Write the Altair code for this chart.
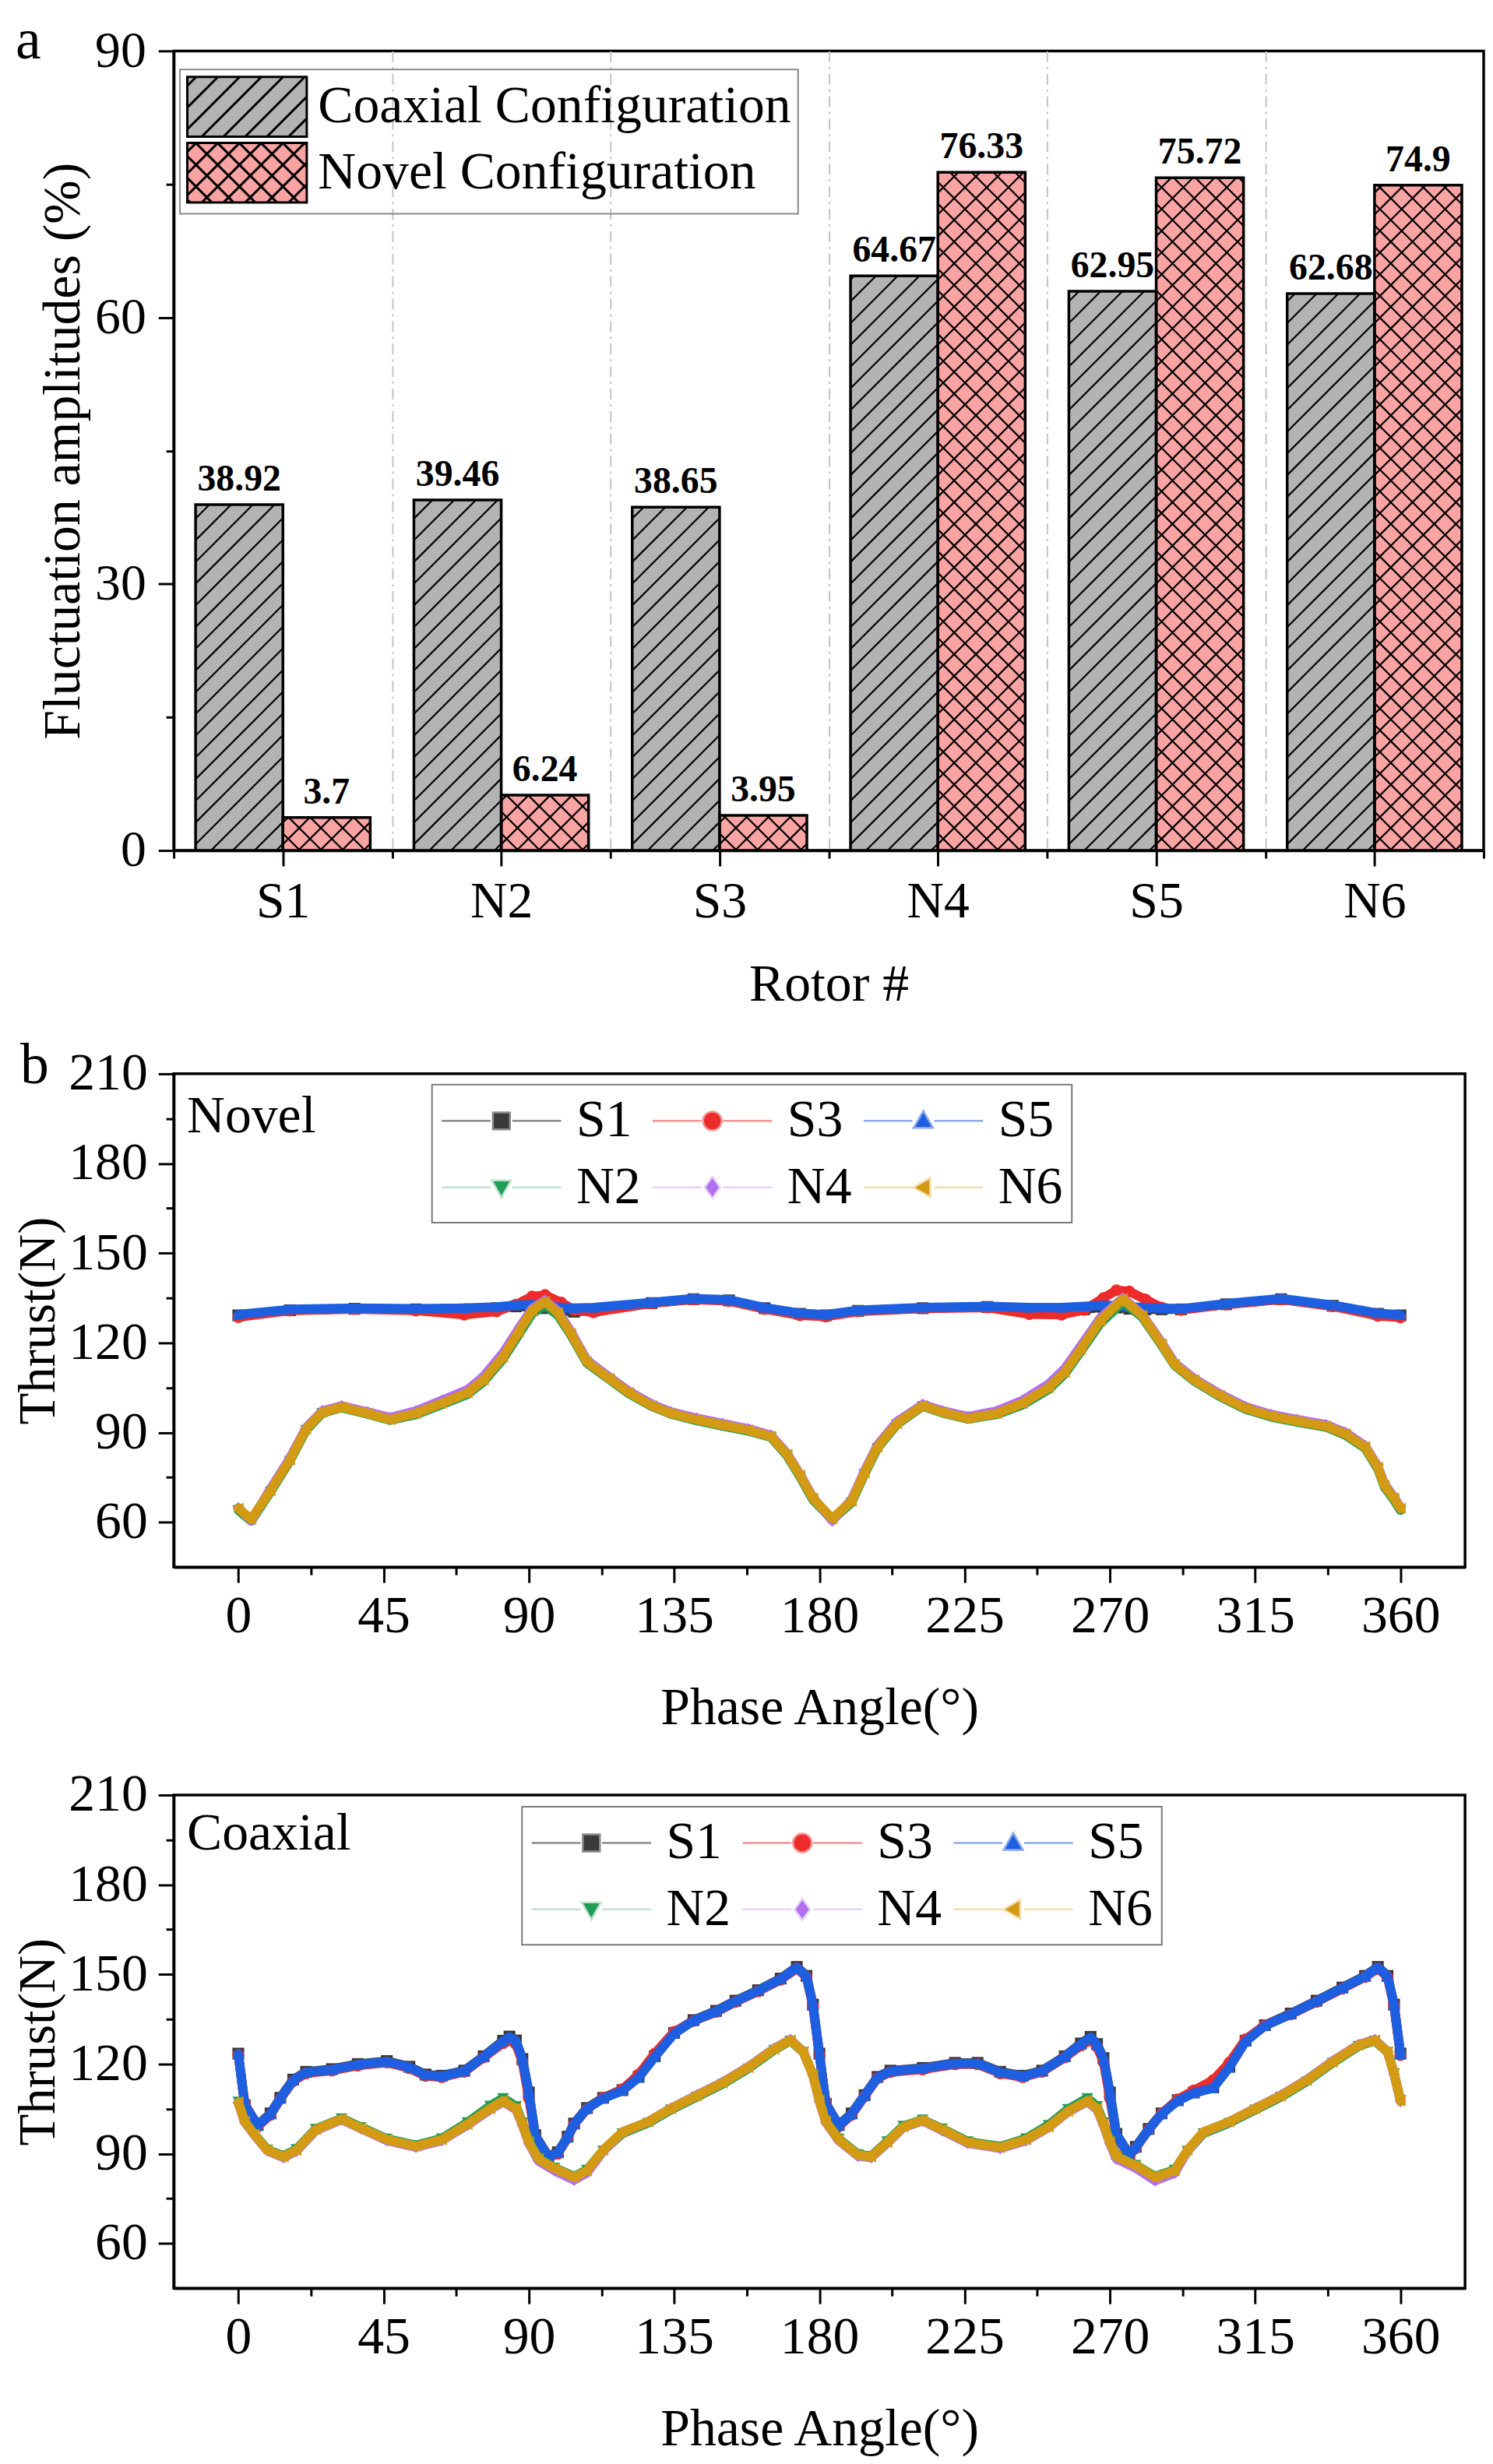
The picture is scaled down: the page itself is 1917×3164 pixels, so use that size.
import math
import altair as alt
import pandas as pd

SERIF = "Liberation Serif"

# ---------------- panel a data ----------------
ROTORS = ["S1", "N2", "S3", "N4", "S5", "N6"]
COAXIAL = [38.92, 39.46, 38.65, 64.67, 62.95, 62.68]
NOVEL = [3.7, 6.24, 3.95, 76.33, 75.72, 74.9]
CONFIGS = ["Coaxial Configuration", "Novel Configuration"]
CONFIG_FILL = ["#b3b3b3", "#f9a3a3"]

# ---------------- panel b data ----------------
SERIES = ["S1", "S3", "S5", "N2", "N4", "N6"]
MARK_COLOR = {"S1": "#3a3a3a", "S3": "#ee2b2b", "S5": "#1d5fe0",
              "N2": "#1f9d57", "N4": "#b26ff0", "N6": "#d39a14"}
LINE_COLOR = {"S1": "#8c8c8c", "S3": "#f29494", "S5": "#8cacee",
              "N2": "#bfe3cd", "N4": "#e6d3f6", "N6": "#f2dfae"}
SHAPES = {"S1": "square", "S3": "circle", "S5": "triangle-up",
          "N2": "triangle-down", "N4": "diamond", "N6": "triangle-left"}

# Novel configuration
NOV_S_ANG = [0, 16, 36, 55, 70, 80, 86, 91, 95, 100,
             104, 110, 128, 141, 152, 163, 174, 182, 192, 212,
             232, 245, 255, 262, 268, 272, 276, 281, 286, 292,
             306, 323, 339, 353, 360]
NOV_S1 = [129.2, 130.9, 131.4, 131.2, 131.2, 131.6, 132.2, 132.0, 131.6, 130.8,
          130.4, 130.8, 133.3, 134.6, 134.2, 131.6, 129.7, 129.2, 130.7, 131.6,
          132.0, 130.9, 130.6, 131.2, 132.0, 131.8, 131.4, 131.2, 131.2, 131.2,
          132.9, 134.6, 132.4, 129.7, 129.2]
NOV_S3 = [128.6, 130.8, 131.3, 130.8, 129.4, 130.5, 132.8, 135.5, 136.0, 133.5,
          131.0, 130.2, 133.2, 134.5, 134.0, 131.3, 129.2, 128.8, 130.5, 131.5,
          131.8, 129.6, 129.4, 131.0, 135.0, 137.6, 137.2, 134.5, 131.8, 131.0,
          132.8, 134.5, 132.2, 129.0, 128.5]
NOV_S5 = [129.5, 131.2, 131.6, 131.4, 131.6, 132.0, 132.6, 132.8, 132.4, 131.8,
          131.6, 131.8, 133.5, 134.8, 134.4, 131.8, 129.9, 129.4, 130.9, 131.8,
          132.2, 131.8, 131.8, 132.2, 132.6, 132.4, 132.1, 131.8, 131.6, 131.4,
          133.1, 134.8, 132.6, 129.9, 129.4]
NOV_N_ANG = [0, 4, 10, 16, 21, 26, 32, 40, 47, 55,
             63, 71, 76, 82, 87, 91, 95, 99, 103, 108,
             115, 121, 128, 134, 142, 150, 158, 165, 170, 174,
             178, 184, 190, 194, 198, 204, 212, 218, 226, 235,
             243, 251, 256, 261, 267, 274, 280, 286, 290, 296,
             304, 312, 320, 328, 337, 343, 349, 353, 355, 358,
             360]
NOV_N2 = [64.0, 60.4, 70.2, 80.5, 90.8, 96.5, 98.3, 96.2, 94.1, 96.0,
          99.3, 102.8, 107.0, 114.6, 123.0, 129.8, 132.5, 129.2, 122.6, 113.2,
          107.7, 103.0, 98.8, 96.2, 94.0, 92.2, 90.5, 88.4, 82.2, 75.2,
          67.5, 60.8, 66.6, 76.1, 84.8, 92.7, 98.8, 96.6, 94.5, 96.1,
          99.3, 104.4, 109.6, 117.2, 126.5, 133.6, 128.6, 119.2, 112.5, 107.3,
          102.1, 97.8, 95.2, 93.5, 91.8, 89.1, 84.8, 77.8, 71.8, 67.4,
          64.0]
NOV_N4 = [64.8, 60.6, 71.2, 81.5, 91.6, 97.2, 98.9, 96.9, 95.0, 97.2,
          100.7, 104.3, 108.8, 116.6, 125.0, 131.4, 134.2, 130.6, 123.8, 114.2,
          108.5, 103.8, 99.5, 96.9, 94.8, 93.0, 91.2, 89.1, 83.0, 76.0,
          68.3, 60.5, 67.6, 77.2, 85.8, 93.6, 99.4, 97.3, 95.3, 97.2,
          100.8, 106.2, 111.4, 119.0, 128.3, 135.0, 129.5, 120.1, 113.3, 108.1,
          102.9, 98.6, 96.0, 94.3, 92.6, 90.0, 85.6, 78.7, 72.8, 68.4,
          64.9]
NOV_N6 = [64.6, 61.0, 70.6, 80.9, 91.2, 96.8, 98.5, 96.4, 94.3, 96.4,
          99.8, 103.3, 107.6, 115.3, 123.9, 130.8, 133.8, 130.0, 123.1, 113.6,
          108.0, 103.3, 99.0, 96.4, 94.3, 92.5, 90.8, 88.7, 82.6, 75.7,
          68.0, 61.2, 67.1, 76.6, 85.2, 93.0, 99.0, 96.8, 94.7, 96.4,
          99.8, 105.0, 110.2, 117.9, 127.4, 134.7, 129.1, 119.6, 112.8, 107.6,
          102.4, 98.1, 95.5, 93.8, 92.1, 89.5, 85.2, 78.3, 72.3, 68.0,
          64.6]

# Coaxial configuration
COAX_S_ANG = [0, 2, 6, 10, 13, 17, 21, 29, 37, 46,
              53, 58, 63, 70, 76, 82, 84, 86, 88, 90,
              92, 96, 99, 102, 104, 108, 113, 119, 124, 129,
              135, 141, 148, 154, 161, 168, 173, 176, 178, 180,
              182, 186, 190, 194, 198, 202, 212, 222, 229, 236,
              243, 249, 256, 261, 264, 266, 268, 270, 272, 276,
              278, 282, 286, 291, 296, 302, 307, 312, 318, 326,
              334, 342, 349, 353, 356, 358, 360]
COAX_S1 = [123.5, 106.2, 99.6, 103.5, 108.7, 114.8, 117.4, 118.3, 120.0, 121.0,
           119.1, 116.5, 116.1, 117.8, 122.6, 127.8, 129.2, 127.9, 121.7, 110.5,
           96.2, 89.2, 90.5, 95.7, 100.1, 105.3, 108.7, 111.3, 115.7, 122.6,
           130.4, 134.7, 137.8, 141.2, 144.7, 148.6, 152.5, 149.5, 139.9, 123.5,
           106.6, 99.6, 103.5, 109.6, 115.7, 117.8, 118.7, 120.4, 120.4, 117.4,
           116.1, 117.8, 122.6, 126.9, 129.1, 126.7, 122.0, 110.5, 96.6, 89.7,
           92.3, 98.3, 103.5, 107.9, 110.5, 112.2, 119.1, 127.8, 133.0, 136.9,
           141.2, 145.6, 149.5, 152.5, 149.5, 139.9, 123.5]
COAX_S3 = [123.0, 106.8, 99.1, 103.0, 108.3, 114.3, 116.9, 117.8, 119.5, 120.5,
           118.6, 116.0, 115.6, 117.4, 122.2, 127.0, 128.0, 126.7, 120.7, 108.5,
           95.4, 88.7, 90.0, 95.3, 99.7, 105.0, 108.7, 111.6, 116.5, 123.5,
           130.8, 134.4, 137.4, 140.8, 144.3, 148.2, 152.0, 149.1, 139.4, 123.0,
           107.0, 99.1, 103.0, 109.2, 115.3, 117.3, 118.2, 119.9, 119.9, 116.9,
           115.6, 117.4, 122.2, 126.2, 128.0, 125.8, 120.7, 108.5, 95.8, 89.2,
           91.9, 98.0, 103.4, 108.2, 111.2, 114.6, 120.5, 128.3, 133.0, 136.6,
           140.8, 145.2, 149.1, 152.0, 149.1, 139.4, 123.0]
COAX_S5 = [123.3, 106.4, 99.4, 103.3, 108.5, 114.6, 117.2, 118.1, 119.8, 120.8,
           118.9, 116.3, 115.9, 117.6, 122.4, 127.6, 129.0, 127.8, 121.5, 110.3,
           96.0, 89.0, 90.3, 95.5, 99.9, 105.1, 108.5, 111.1, 115.5, 122.4,
           130.2, 134.5, 137.6, 141.0, 144.5, 148.4, 152.3, 149.3, 139.7, 123.3,
           106.8, 99.4, 103.3, 109.4, 115.5, 117.6, 118.5, 120.2, 120.2, 117.2,
           115.9, 117.6, 122.4, 126.7, 128.9, 126.5, 121.8, 110.3, 96.4, 89.5,
           92.1, 98.1, 103.3, 107.7, 110.3, 112.0, 118.9, 127.6, 132.8, 136.7,
           141.0, 145.4, 149.3, 152.3, 149.3, 139.7, 123.3]
COAX_N_ANG = [0, 2, 5, 9, 14, 18, 24, 32, 38, 46,
              55, 63, 71, 78, 82, 86, 88, 90, 93, 98,
              104, 108, 113, 119, 127, 134, 142, 150, 158, 166,
              171, 175, 178, 180, 182, 186, 192, 196, 201, 206,
              212, 218, 226, 236, 244, 251, 257, 263, 266, 268,
              270, 272, 278, 284, 290, 294, 299, 307, 315, 323,
              331, 339, 347, 352, 356, 358, 360]
COAX_N2 = [107.4, 100.9, 96.6, 91.4, 89.3, 91.5, 98.3, 101.8, 98.9, 95.0,
           92.8, 95.1, 100.5, 106.0, 108.6, 105.9, 100.4, 94.2, 88.5, 85.3,
           82.4, 84.6, 91.0, 96.8, 100.3, 104.7, 109.0, 113.3, 118.5, 124.7,
           127.8, 124.0, 116.5, 107.9, 100.9, 95.0, 89.8, 89.2, 94.1, 99.3,
           101.4, 98.4, 94.1, 92.4, 95.1, 99.6, 104.9, 108.6, 105.9, 100.4,
           94.2, 89.3, 86.2, 82.4, 84.6, 90.9, 96.8, 100.3, 104.7, 109.0,
           114.2, 120.4, 126.0, 127.8, 124.0, 116.9, 107.9]
COAX_N4 = [107.0, 100.5, 96.2, 91.0, 88.7, 90.9, 97.8, 101.4, 98.4, 94.4,
           92.2, 94.4, 99.6, 104.8, 107.4, 104.8, 99.6, 93.5, 87.6, 84.3,
           81.2, 83.6, 90.8, 97.2, 100.7, 105.2, 109.6, 113.9, 119.1, 125.2,
           128.2, 124.2, 116.2, 107.5, 100.5, 94.4, 89.2, 88.7, 93.5, 98.8,
           101.0, 97.8, 93.5, 91.8, 94.4, 98.8, 104.0, 107.4, 104.8, 99.6,
           93.4, 88.3, 85.2, 81.0, 83.5, 90.8, 97.2, 100.7, 105.2, 109.6,
           114.8, 121.0, 126.5, 128.2, 124.2, 116.6, 107.5]
COAX_N6 = [107.2, 100.7, 96.4, 91.2, 89.0, 91.2, 98.1, 101.6, 98.6, 94.7,
           92.5, 94.7, 99.9, 105.1, 107.7, 105.1, 99.9, 93.8, 88.2, 85.1,
           82.1, 84.3, 91.2, 97.3, 100.7, 105.1, 109.4, 113.7, 118.9, 125.0,
           128.0, 124.1, 116.3, 107.7, 100.7, 94.7, 89.5, 89.0, 93.8, 99.0,
           101.2, 98.1, 93.8, 92.1, 94.7, 99.0, 104.2, 107.7, 105.1, 99.9,
           93.8, 89.0, 86.0, 82.1, 84.3, 91.2, 97.3, 100.7, 105.1, 109.4,
           114.6, 120.7, 126.3, 128.0, 124.1, 116.8, 107.7]

# ---------------- layout constants ----------------
W_A, H_A = 1689, 1031
W_B, H_B = 1665, 636
PXX = W_A / 6.0          # px per group unit
PXY = H_A / 90.0         # px per % unit
BAR_W = 0.4 * PXX
HATCH = 28.0


def cond(test, yes, no):
    return {"condition": {"test": test, "value": yes}, "value": no}


# ================= panel a =================
rows = []
for i, r in enumerate(ROTORS):
    rows.append({"rotor": r, "idx": i, "off": 0, "config": CONFIGS[0],
                 "value": COAXIAL[i], "lbl": str(COAXIAL[i])})
    rows.append({"rotor": r, "idx": i, "off": 1, "config": CONFIGS[1],
                 "value": NOVEL[i], "lbl": str(NOVEL[i])})
bars_df = pd.DataFrame(rows)

names_js = "[" + ",".join("'" + r + "'" for r in ROTORS) + "]"
XSC_A = alt.Scale(domain=[0, 6], nice=False, zero=False)
YSC_A = alt.Scale(domain=[0, 90], nice=False, zero=False)
XAX_A = alt.Axis(values=[k * 0.5 for k in range(13)],
                 labelExpr="datum.value % 1 === 0.5 ? " + names_js + "[floor(datum.value)] : ''",
                 tickSize=cond("datum.value % 1 === 0", 10, 20),
                 grid=True, gridColor="#c4c4c4", gridWidth=2, gridDash=[14, 6, 3, 6],
                 gridOpacity=cond("datum.value % 1 === 0 && datum.value > 0 && datum.value < 6", 1, 0),
                 labelFontSize=66, labelPadding=14, labelOverlap=False, labelFlush=False,
                 title="Rotor #", titleFontSize=68, titlePadding=40)
YAX_A = alt.Axis(values=[k * 15 for k in range(7)],
                 labelExpr="datum.value % 30 === 0 ? '' + datum.value : ''",
                 tickSize=cond("datum.value % 30 === 0", 20, 10),
                 labelFontSize=66, labelPadding=16, labelOverlap=False, labelFlush=False,
                 grid=False,
                 title="Fluctuation amplitudes (%)", titleFontSize=68, titlePadding=6)


def legend_hatch_path(cross):
    # unit = 38.5 px ; swatch spans x in [-1, 3], y in [-1, 1]  (154 x 77 px)
    s = HATCH / 38.5
    parts = ["M-1,-1L3,-1L3,1L-1,1Z"]
    c = -2 + 0.3
    while c < 4:
        xa, xb = max(-1.0, c - 1), min(3.0, c + 1)
        if xb - xa > 0.03:
            parts.append("M%.3f,%.3fL%.3f,%.3f" % (xa, c - xa, xb, c - xb))
        c += s
    if cross:
        c = -2 + 0.1
        while c < 4:
            xa, xb = max(-1.0, c - 1), min(3.0, c + 1)
            if xb - xa > 0.03:
                parts.append("M%.3f,%.3fL%.3f,%.3f" % (xa, xa - c, xb, xb - c))
            c += s
    return "".join(parts)


leg_a = alt.Legend(title=None, orient="none", legendX=8, legendY=24,
                   symbolSize=5929, symbolStrokeWidth=3, symbolStrokeColor="black",
                   labelFont=SERIF, labelFontSize=68, labelColor="black", labelOffset=90,
                   rowPadding=-7, padding=8, strokeColor="#8a8a8a", labelLimit=0)
FILL_SC_A = alt.Scale(domain=CONFIGS, range=CONFIG_FILL)
SHAPE_SC_A = alt.Scale(domain=CONFIGS, range=[legend_hatch_path(False), legend_hatch_path(True)])

base_a = alt.Chart(bars_df).transform_calculate(
    x0="datum.idx + 0.1 + 0.4 * datum.off",
    x1="datum.idx + 0.5 + 0.4 * datum.off",
    xc="datum.idx + 0.3 + 0.4 * datum.off",
)

bar_fill = base_a.mark_rect(strokeWidth=0).encode(
    x=alt.X("x0:Q", scale=XSC_A, axis=XAX_A),
    x2="x1:Q",
    y=alt.Y("value:Q", scale=YSC_A, axis=YAX_A),
    y2=alt.datum(0),
    fill=alt.Fill("config:N", scale=FILL_SC_A, legend=leg_a),
)


def hatch(direction, test=None):
    ch = alt.Chart(bars_df)
    if test:
        ch = ch.transform_filter(test)
    ch = ch.transform_calculate(
        hpx="datum.value * " + repr(PXY),
        x0="datum.idx + 0.1 + 0.4 * datum.off",
    )
    n_w = int(math.ceil(BAR_W / HATCH)) + 1
    hs = repr(HATCH)
    bw = repr(BAR_W)
    if direction == "up":
        ch = ch.transform_calculate(
            ks="sequence(-" + str(n_w) + ", ceil(datum.hpx / " + hs + ") + 1)"
        ).transform_flatten(["ks"]).transform_calculate(
            d="datum.ks * " + hs + " + 8"
        ).transform_calculate(
            u0="max(0, -datum.d)",
            u1="min(" + bw + ", datum.hpx - datum.d)",
        ).transform_filter("datum.u1 - datum.u0 > 1").transform_calculate(
            ya="(datum.u0 + datum.d) / " + repr(PXY),
            yb="(datum.u1 + datum.d) / " + repr(PXY),
        )
    else:
        ch = ch.transform_calculate(
            ks="sequence(1, ceil((datum.hpx + " + bw + ") / " + hs + ") + 1)"
        ).transform_flatten(["ks"]).transform_calculate(
            d="datum.ks * " + hs + " - 6"
        ).transform_calculate(
            u0="max(0, datum.d - datum.hpx)",
            u1="min(" + bw + ", datum.d)",
        ).transform_filter("datum.u1 - datum.u0 > 1").transform_calculate(
            ya="(datum.d - datum.u0) / " + repr(PXY),
            yb="(datum.d - datum.u1) / " + repr(PXY),
        )
    ch = ch.transform_calculate(
        xa="datum.x0 + datum.u0 / " + repr(PXX),
        xb="datum.x0 + datum.u1 / " + repr(PXX),
    )
    return ch.mark_rule(color="black", strokeWidth=2.2).encode(
        x=alt.X("xa:Q", scale=XSC_A, axis=XAX_A),
        x2="xb:Q",
        y=alt.Y("ya:Q", scale=YSC_A, axis=YAX_A),
        y2="yb:Q",
    )


bar_edge = base_a.mark_rect(fill="transparent", stroke="black", strokeWidth=3.5).encode(
    x=alt.X("x0:Q", scale=XSC_A, axis=XAX_A),
    x2="x1:Q",
    y=alt.Y("value:Q", scale=YSC_A, axis=YAX_A),
    y2=alt.datum(0),
)

bar_text = base_a.mark_text(font=SERIF, fontSize=48, fontWeight="bold", color="black",
                            baseline="bottom", dy=-8).encode(
    x=alt.X("xc:Q", scale=XSC_A, axis=XAX_A),
    y=alt.Y("value:Q", scale=YSC_A, axis=YAX_A),
    text="lbl:N",
)

legend_a = alt.Chart(bars_df).transform_filter("false").mark_point(filled=True, opacity=1).encode(
    fill=alt.Fill("config:N", scale=FILL_SC_A, legend=leg_a),
    shape=alt.Shape("config:N", scale=SHAPE_SC_A, legend=leg_a),
)


def letter_layer(txt, x, y, size):
    return alt.Chart(pd.DataFrame({"t": [txt]})).mark_text(
        font=SERIF, fontSize=size, color="black", align="left", baseline="alphabetic"
    ).encode(text="t:N", x=alt.value(x), y=alt.value(y))


panel_a = alt.layer(
    bar_fill, hatch("up"), hatch("down", "datum.off === 1"), bar_edge, bar_text, legend_a,
    letter_layer("a", -204, 10, 74),
).properties(width=W_A, height=H_A)


# ================= panel b =================
def long_df(spec):
    out = []
    for s, (angs, vals) in spec.items():
        for a, v in zip(angs, vals):
            out.append({"series": s, "angle": a, "thrust": v})
    return pd.DataFrame(out)


nov_df = long_df({"S1": (NOV_S_ANG, NOV_S1), "S3": (NOV_S_ANG, NOV_S3), "S5": (NOV_S_ANG, NOV_S5),
                  "N2": (NOV_N_ANG, NOV_N2), "N4": (NOV_N_ANG, NOV_N4), "N6": (NOV_N_ANG, NOV_N6)})
coax_df = long_df({"S1": (COAX_S_ANG, COAX_S1), "S3": (COAX_S_ANG, COAX_S3), "S5": (COAX_S_ANG, COAX_S5),
                   "N2": (COAX_N_ANG, COAX_N2), "N4": (COAX_N_ANG, COAX_N4), "N6": (COAX_N_ANG, COAX_N6)})

# legend symbol: unit = 34 px, symbol centre sits 34 px into the entry;
# line spans entry x 0..154 px, marker centred at entry x 77 px.
LU = 34.0
MC = 43.0  # marker centre relative to symbol centre (px)


def _pt(x, y):
    return "%.3f,%.3f" % (x / LU, y / LU)


def _poly(pts):
    return "M" + "L".join(_pt(MC + x, y) for x, y in pts) + "Z"


LEG_MARK = {
    "S1": _poly([(-11, -11), (11, -11), (11, 11), (-11, 11)]),
    "S3": "M" + _pt(MC + 12, 0) + "A%.3f,%.3f,0,1,1," % (12 / LU, 12 / LU) + _pt(MC - 12, 0)
          + "A%.3f,%.3f,0,1,1," % (12 / LU, 12 / LU) + _pt(MC + 12, 0) + "Z",
    "S5": _poly([(0, -13), (12.5, 9), (-12.5, 9)]),
    "N2": _poly([(0, 13), (12.5, -9), (-12.5, -9)]),
    "N4": _poly([(0, -14), (10, 0), (0, 14), (-10, 0)]),
    "N6": _poly([(-13, 0), (9, -12.5), (9, 12.5)]),
}
LEG_LINE = "M" + _pt(-34, 0) + "L" + _pt(MC - 14, 0) + "M" + _pt(MC + 14, 0) + "L" + _pt(120, 0)
LEG_PATHS = [LEG_LINE + LEG_MARK[s] for s in SERIES]


def panel_b(df, name, name_y, lx, ly, letter=None):
    xsc = alt.Scale(domain=[-20, 380], nice=False, zero=False)
    ysc = alt.Scale(domain=[45, 210], nice=False, zero=False)
    xax = alt.Axis(values=[k * 22.5 for k in range(17)],
                   labelExpr="datum.value % 45 === 0 ? '' + datum.value : ''",
                   tickSize=cond("datum.value % 45 === 0", 20, 10),
                   labelFontSize=68, labelPadding=10, labelOverlap=False, labelFlush=False,
                   grid=False,
                   title="Phase Angle(°)", titleFontSize=68, titlePadding=50)
    yax = alt.Axis(values=[60 + k * 15 for k in range(11)],
                   labelExpr="datum.value % 30 === 0 ? '' + datum.value : ''",
                   tickSize=cond("datum.value % 30 === 0", 20, 10),
                   labelFontSize=68, labelPadding=14, labelOverlap=False, labelFlush=False,
                   grid=False,
                   title="Thrust(N)", titleFontSize=67, titlePadding=4)
    layers = []
    for s in SERIES:
        sub = alt.Chart(df).transform_filter(alt.datum.series == s)
        enc = dict(x=alt.X("angle:Q", scale=xsc, axis=xax), y=alt.Y("thrust:Q", scale=ysc, axis=yax))
        layers.append(sub.mark_line(color=MARK_COLOR[s], strokeWidth=12, strokeJoin="round",
                                    strokeCap="round").encode(**enc))
        layers.append(sub.mark_point(shape=SHAPES[s], filled=True, size=230, color=MARK_COLOR[s],
                                     opacity=1).encode(**enc))
    leg = alt.Legend(title=None, orient="none", legendX=lx, legendY=ly, columns=3, direction="horizontal",
                     symbolSize=4624, symbolStrokeWidth=2.5, labelFont=SERIF, labelFontSize=68,
                     labelColor="black", labelOffset=104, columnPadding=9, rowPadding=16, padding=11,
                     strokeColor="#7a7a7a", fillColor="white", labelLimit=0)
    layers.append(alt.Chart(df).transform_filter("false").mark_point(filled=True, opacity=1).encode(
        fill=alt.Fill("series:N", scale=alt.Scale(domain=SERIES, range=[MARK_COLOR[s] for s in SERIES]),
                      legend=leg),
        stroke=alt.Stroke("series:N", scale=alt.Scale(domain=SERIES, range=[LINE_COLOR[s] for s in SERIES]),
                          legend=leg),
        shape=alt.Shape("series:N", scale=alt.Scale(domain=SERIES, range=LEG_PATHS), legend=leg),
    ))
    layers.append(letter_layer(name, 17, name_y, 68))
    if letter:
        layers.append(letter_layer(letter, -198, 12, 74))
    return alt.layer(*layers).properties(width=W_B, height=H_B)


panel_b1 = panel_b(nov_df, "Novel", 75, 333, 14, letter="b")
panel_b2 = panel_b(coax_df, "Coaxial", 70, 449, 15)

INDEP = dict(fill="independent", stroke="independent", shape="independent", color="independent")

inner = alt.vconcat(panel_b1, panel_b2, spacing=40).resolve_scale(**INDEP).resolve_legend(
    fill="independent", stroke="independent", shape="independent")

chart = alt.vconcat(panel_a, inner, spacing=30).resolve_scale(**INDEP).resolve_legend(
    fill="independent", stroke="independent", shape="independent"
).properties(padding={"left": 6, "top": 0, "right": 0, "bottom": 0}).configure_view(
    stroke="black", strokeWidth=3.5
).configure_axis(
    labelFont=SERIF, titleFont=SERIF, labelColor="black", titleColor="black",
    titleFontWeight="normal", domainColor="black", domainWidth=3.5,
    tickColor="black", tickWidth=3, grid=False,
).configure_legend(strokeWidth=2)

chart.save("out.html", embed_options={"renderer": "svg", "actions": False})
